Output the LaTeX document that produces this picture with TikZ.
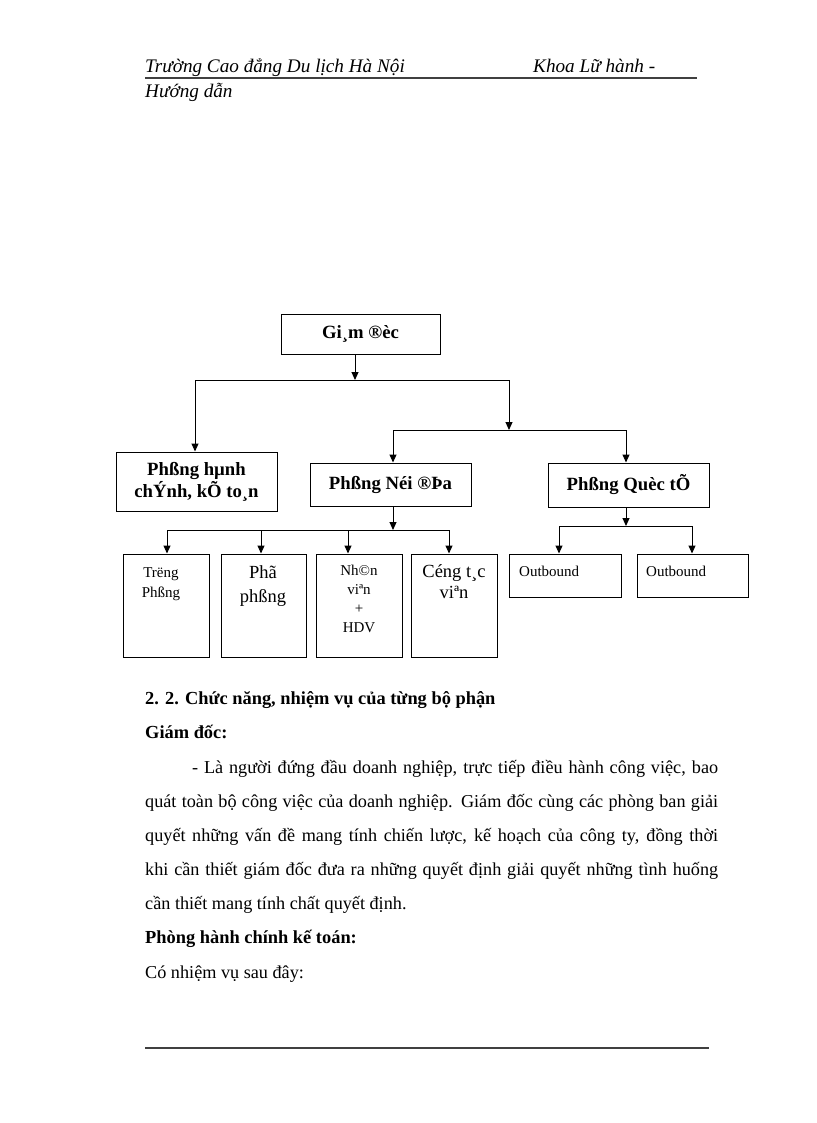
\documentclass[tikz,border=0pt]{standalone}
\usepackage{fontspec}
\setmainfont{Liberation Serif}
\usetikzlibrary{arrows.meta}
\begin{document}
\begin{tikzpicture}[x=1pt,y=-1pt,
  box/.style={draw, line width=1pt, inner sep=0pt, align=center},
  bigbox/.style={box, font=\bfseries\fontsize{18.7}{22}\selectfont},
  small/.style={inner sep=0pt, anchor=base, align=center, font=\fontsize{15}{19}\selectfont},
  mid/.style={inner sep=0pt, anchor=base, align=center, font=\fontsize{18.5}{24}\selectfont},
  arr/.style={line width=1pt, -{Triangle[width=7pt,length=8pt]}},
  ln/.style={line width=1pt},
  body/.style={inner sep=0pt, anchor=base west, font=\fontsize{18.2}{20}\selectfont},
  bodyb/.style={body, font=\bfseries\fontsize{18.4}{20}\selectfont},
  head/.style={inner sep=0pt, anchor=base west, font=\itshape\fontsize{19.2}{22}\selectfont},
  rule/.style={line width=1.3pt, black!75}]
\useasboundingbox (0,0) rectangle (816,1123);

% header
\node[head] (h1) at (145,73) {Trường Cao đẳng Du lịch Hà Nội};
\node[head] (h2) at (533,73) {Khoa Lữ hành -};
\node[head] (h3) at (145,98) {Hướng dẫn};
\coordinate (hr1) at (145,78);
\coordinate (hr2) at (697,78);
\draw[rule] (hr1) -- (hr2);

% boxes
\node[bigbox, minimum width=159pt, minimum height=40pt] (gd) at (360.5,334) {Gi¸m ®èc};
\node[bigbox, minimum width=161pt, minimum height=59pt] (hc) at (196.5,481.5) {Phßng hµnh\\chÝnh, kÕ to¸n};
\node[bigbox, minimum width=161pt, minimum height=43pt] (nd) at (390.5,484.5) {Phßng Néi ®Þa};
\node[bigbox, minimum width=161pt, minimum height=44pt] (qt) at (628.5,485) {Phßng Quèc tÕ};

\node[box, minimum width=86pt, minimum height=103pt] (s1) at (166,605.5) {};
\node[box, minimum width=85pt, minimum height=103pt] (s2) at (263.5,605.5) {};
\node[box, minimum width=86pt, minimum height=103pt] (s3) at (359,605.5) {};
\node[box, minimum width=86pt, minimum height=103pt] (s4) at (454,605.5) {};
\node[box, minimum width=112pt, minimum height=43pt] (o1) at (565,575.5) {};
\node[box, minimum width=111pt, minimum height=43pt] (o2) at (692.5,575.5) {};

% box texts
\node[small] (t1a) at (161,577) {Trëng};
\node[small] (t1b) at (161,597) {Phßng};
\node[mid] (t2a) at (263,578) {Phã};
\node[mid] (t2b) at (263,602) {phßng};
\node[small] (t3a) at (359,575) {Nh©n};
\node[small] (t3b) at (359,594) {viªn};
\node[small] (t3c) at (359,613) {+};
\node[small] (t3d) at (359,632) {HDV};
\node[mid] (t4a) at (454,577) {Céng t¸c};
\node[mid] (t4b) at (454,598) {viªn};
\node[small, anchor=base west] (to1) at (519,576) {Outbound};
\node[small, anchor=base west] (to2) at (646,576) {Outbound};

% connectors
\coordinate (g0) at (355,354);
\coordinate (g1) at (355,380);
\coordinate (jl) at (195,380);
\coordinate (jr) at (509,380);
\coordinate (jr2) at (509,430);
\coordinate (k1) at (393,430);
\coordinate (k2) at (626,430);
\draw[arr] (g0) -- (g1);
\draw[ln] (jl) -- (jr);
\draw[arr] (jl) -- (jl |- hc.north);
\draw[arr] (jr) -- (jr2);
\draw[ln] (k1) -- (k2);
\draw[arr] (k1) -- (k1 |- nd.north);
\draw[arr] (k2) -- (k2 |- qt.north);

\coordinate (n0) at (393,506);
\coordinate (n1) at (393,530);
\coordinate (na) at (167,530);
\coordinate (nb) at (261,530);
\coordinate (nc) at (348,530);
\coordinate (ndd) at (449,530);
\draw[arr] (n0) -- (n1);
\draw[ln] (na) -- (ndd);
\draw[arr] (na) -- (na |- s1.north);
\draw[arr] (nb) -- (nb |- s2.north);
\draw[arr] (nc) -- (nc |- s3.north);
\draw[arr] (ndd) -- (ndd |- s4.north);

\coordinate (q0) at (626,507);
\coordinate (q1) at (626,526);
\coordinate (qa) at (559,526);
\coordinate (qb) at (692,526);
\draw[arr] (q0) -- (q1);
\draw[ln] (qa) -- (qb);
\draw[arr] (qa) -- (qa |- o1.north);
\draw[arr] (qb) -- (qb |- o2.north);

% body text
\node[bodyb] (b1) at (145,704) {2. 2. Chức năng, nhiệm vụ của từng bộ phận};
\node[bodyb] (b2) at (145,738) {Giám đốc:};
\node[body] (b3) at (192,773) {\makebox[526pt][s]{- Là người đứng đầu doanh nghiệp, trực tiếp điều hành công việc, bao}};
\node[body] (b4) at (145,807) {\makebox[573pt][s]{quát toàn bộ công việc của doanh nghiệp. Giám đốc cùng các phòng ban giải}};
\node[body] (b5) at (145,841) {\makebox[573pt][s]{quyết những vấn đề mang tính chiến lược, kế hoạch của công ty, đồng thời}};
\node[body] (b6) at (145,875) {\makebox[573pt][s]{khi cần thiết giám đốc đưa ra những quyết định giải quyết những tình huống}};
\node[body] (b7) at (145,909) {cần thiết mang tính chất quyết định.};
\node[bodyb] (b8) at (145,943) {Phòng hành chính kế toán:};
\node[body] (b9) at (145,978) {Có nhiệm vụ sau đây:};

\coordinate (f1) at (145,1048);
\coordinate (f2) at (709,1048);
\draw[rule] (f1) -- (f2);
\end{tikzpicture}
\end{document}
